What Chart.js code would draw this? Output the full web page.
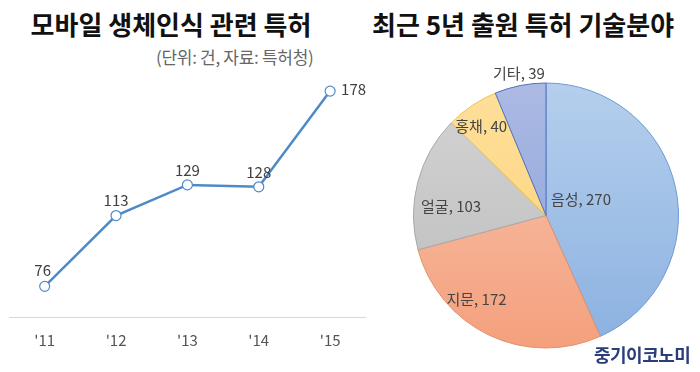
<!DOCTYPE html>
<html>
<head>
<meta charset="utf-8">
<script src="https://cdn.jsdelivr.net/npm/chart.js@4.4.1/dist/chart.umd.min.js"></script>
<style>
  html, body { margin: 0; padding: 0; background: #fff; }
  body { width: 700px; height: 372px; position: relative; overflow: hidden;
         font-family: "Noto Sans CJK KR", "Noto Sans", sans-serif; }
  .title { position: absolute; font-weight: bold; color: #111; white-space: nowrap;
           text-align: center; font-size: 26px; line-height: 30px; top: 9px; }
  #t1 { left: 0; width: 342px; }
  #t2 { left: 372px; width: 300px; }
  #sub { position: absolute; left: 156px; top: 46px; font-size: 17px; line-height: 22px;
         color: #666; white-space: nowrap; letter-spacing: -0.3px; }
  #logo { position: absolute; left: 594px; top: 341px; font-size: 18px; line-height: 26px; font-weight: bold;
          color: #2a3d7c; letter-spacing: -0.5px; }
  #lineBox { position: absolute; left: 0; top: 40px; width: 372px; height: 332px; }
  #pieBox { position: absolute; left: 400px; top: 60px; width: 294px; height: 300px; }
</style>
</head>
<body>
<div class="title" id="t1">모바일 생체인식 관련 특허</div>
<div id="sub">(단위: 건, 자료: 특허청)</div>
<div class="title" id="t2">최근 5년 출원 특허 기술분야</div>
<div id="lineBox"><canvas id="line"></canvas></div>
<div id="pieBox"><canvas id="pie"></canvas></div>
<div id="logo">중기이코노미</div>

<script>
// left chart: patents per year
var years = ["'11", "'12", "'13", "'14", "'15"];
var patents = [76, 113, 129, 128, 178];

// right chart: technology fields (last 5 years)
var fields = ["음성", "지문", "얼굴", "홍채", "기타"];
var fieldCounts = [270, 172, 103, 40, 39];
var topColors = ["#b5cfed", "#f7c6b2", "#d4d4d4", "#fee09a", "#acbae3"];
var bottomColors = ["#8bb1e0", "#f4a07c", "#bbbbbb", "#fdcf78", "#889fda"];
var borderColors = ["#6d9ad2", "#e0916c", "#a9a9a9", "#efc24a", "#4f70c0"];
// where each label sits: fraction along the slice angle, fraction of radius
var labelAlong = [0.42, 0.645, 0.35, 0.41, 0.52];
var labelRadius = [0.29, 0.82, 0.72, 0.83, 1.09];

var lineLabels = {
  id: 'lineLabels',
  afterDatasetsDraw(chart) {
    var ctx = chart.ctx;
    var meta = chart.getDatasetMeta(0);
    ctx.save();
    ctx.font = '15px "Noto Sans CJK KR", sans-serif';
    ctx.fillStyle = '#404040';
    ctx.textBaseline = 'middle';
    meta.data.forEach(function(pt, i) {
      var v = chart.data.datasets[0].data[i];
      if (i == meta.data.length - 1) {
        ctx.textAlign = 'left';
        ctx.fillText(v, pt.x + 11, pt.y - 2);
      } else {
        ctx.textAlign = 'center';
        ctx.fillText(v, pt.x - (i == 0 ? 2 : 0), pt.y - 15 - (i == 0 ? 1 : 0));
      }
    });
    ctx.restore();
  }
};

new Chart(document.getElementById('line'), {
  type: 'line',
  data: {
    labels: years,
    datasets: [{
      data: patents,
      borderColor: '#4f8ac8',
      borderWidth: 2.5,
      pointRadius: 5,
      pointBorderWidth: 1.2,
      pointBackgroundColor: '#fff',
      pointBorderColor: '#4f8ac8',
      tension: 0,
      clip: false
    }]
  },
  options: {
    responsive: true,
    maintainAspectRatio: false,
    animation: false,
    layout: { padding: { left: 9, right: 5, top: 9, bottom: 9 } },
    plugins: { legend: { display: false }, tooltip: { enabled: false } },
    scales: {
      x: {
        offset: true,
        grid: { display: false, drawTicks: false },
        border: { display: true, color: '#d9d9d9', width: 1 },
        ticks: { color: '#555', padding: 14,
                 font: { size: 15, family: '"Noto Sans CJK KR", sans-serif' } }
      },
      y: { display: false, min: 60, max: 200 }
    }
  },
  plugins: [lineLabels]
});

var pieLabels = {
  id: 'pieLabels',
  afterDatasetsDraw(chart) {
    var ctx = chart.ctx;
    var meta = chart.getDatasetMeta(0);
    ctx.save();
    ctx.font = '15px "Noto Sans CJK KR", sans-serif';
    ctx.fillStyle = '#444';
    ctx.textAlign = 'center';
    ctx.textBaseline = 'middle';
    meta.data.forEach(function(arc, i) {
      var a = arc.startAngle + (arc.endAngle - arc.startAngle) * labelAlong[i];
      var r = arc.outerRadius * labelRadius[i];
      ctx.fillText(fields[i] + ', ' + fieldCounts[i], arc.x + Math.cos(a) * r, arc.y + Math.sin(a) * r);
    });
    ctx.restore();
  }
};

new Chart(document.getElementById('pie'), {
  type: 'pie',
  data: {
    labels: fields,
    datasets: [{
      data: fieldCounts,
      backgroundColor: function(c) {
        var area = c.chart.chartArea;
        if (!area) return topColors[c.dataIndex];
        var g = c.chart.ctx.createLinearGradient(0, area.top, 0, area.bottom);
        g.addColorStop(0, topColors[c.dataIndex]);
        g.addColorStop(1, bottomColors[c.dataIndex]);
        return g;
      },
      borderColor: borderColors,
      borderWidth: 1
    }]
  },
  options: {
    responsive: true,
    maintainAspectRatio: false,
    animation: false,
    layout: { padding: { left: 13, right: 15, top: 22, bottom: 11 } },
    plugins: { legend: { display: false }, tooltip: { enabled: false } }
  },
  plugins: [pieLabels]
});
</script>
</body>
</html>
